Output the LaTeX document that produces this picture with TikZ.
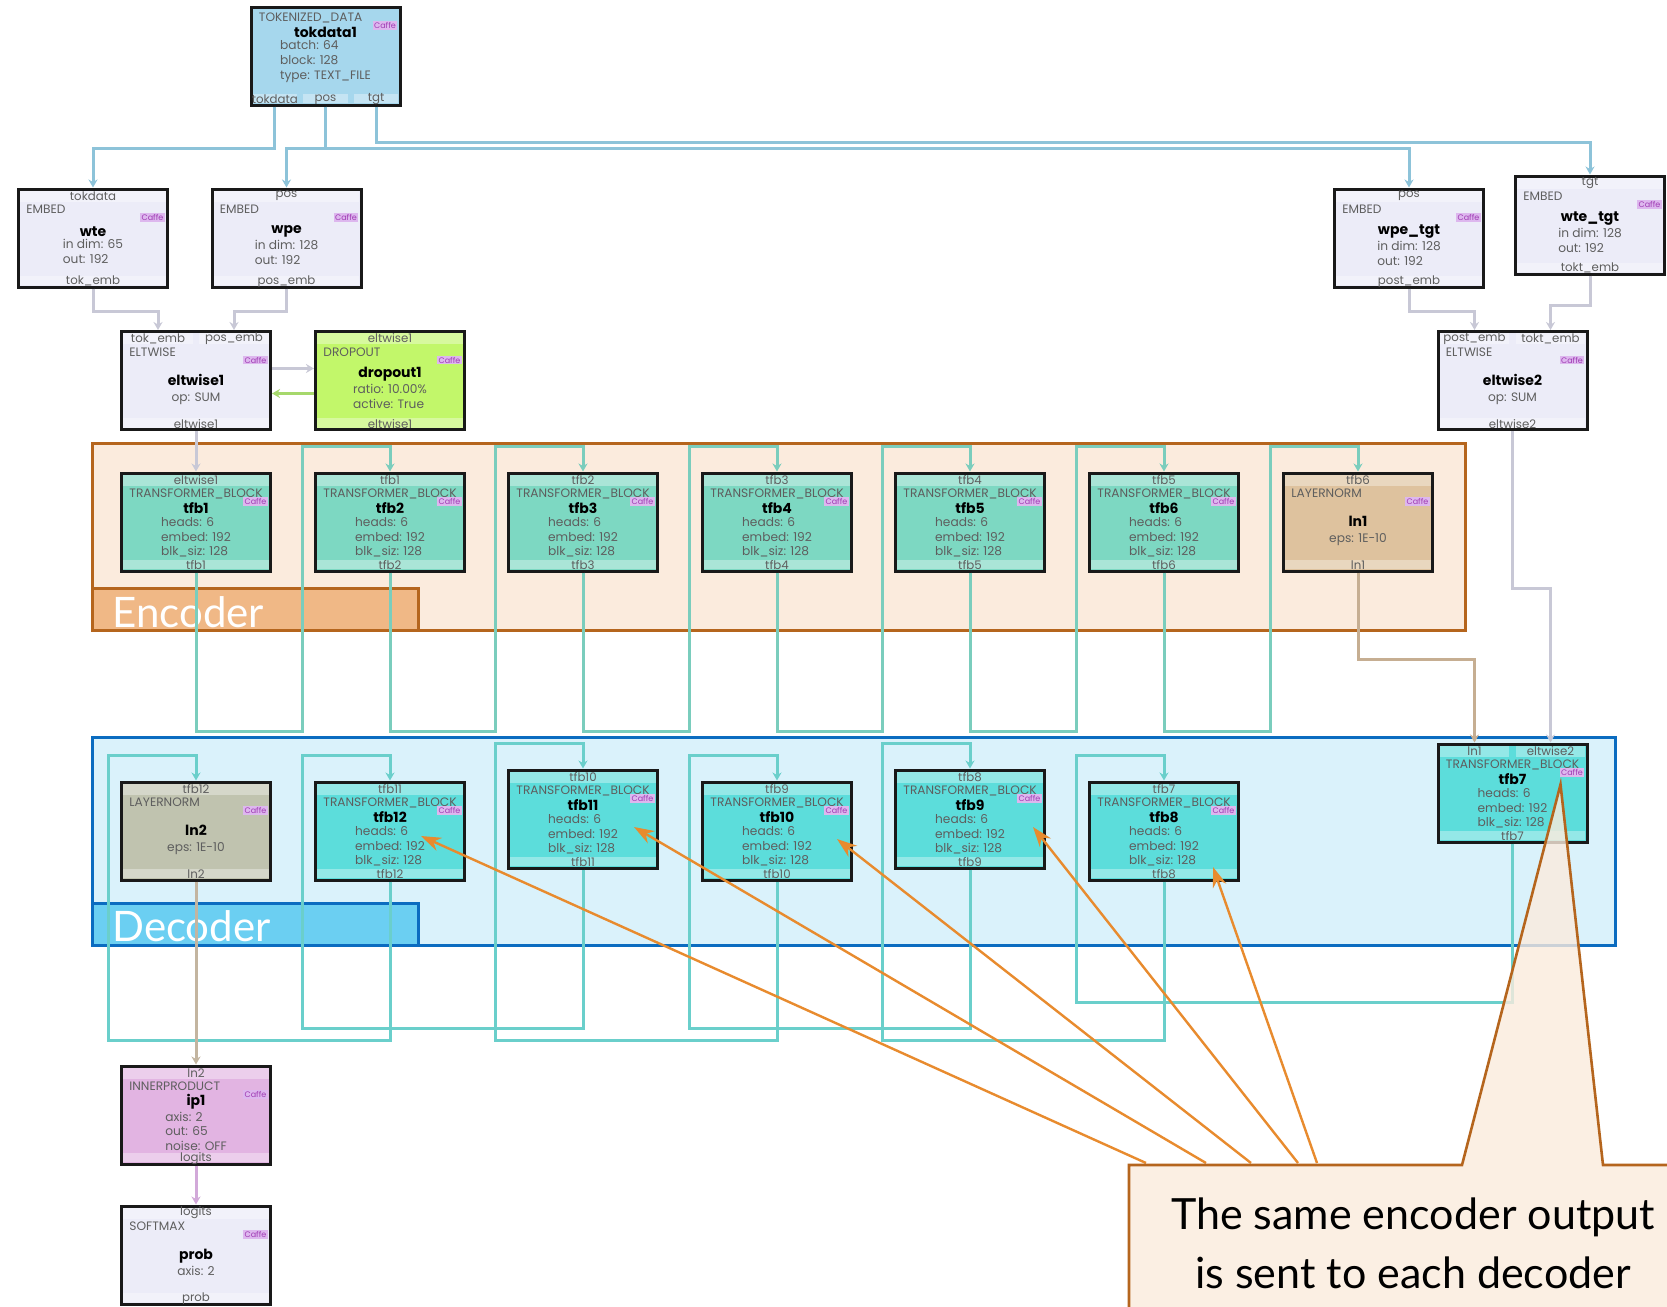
\documentclass[tikz,border=0pt]{standalone}
\usepackage{fontspec}
\setmainfont{Poppins}
\newfontfamily\bigfont{Lato}
\usepackage{xcolor}
\usetikzlibrary{arrows.meta,calc}

% layer colours
\definecolor{datafill}{HTML}{A6D7ED}
\definecolor{embfill}{HTML}{ECECF8}
\definecolor{dropfill}{HTML}{C2F76A}
\definecolor{encfill}{HTML}{7DD8C2}
\definecolor{lnonefill}{HTML}{DEC29E}
\definecolor{decfill}{HTML}{5CDDDB}
\definecolor{lntwofill}{HTML}{C0C3AF}
\definecolor{ipfill}{HTML}{E2B4E2}
% wire colours
\definecolor{datawirec}{HTML}{8DC3D9}
\definecolor{embwirec}{HTML}{C8C8D6}
\definecolor{dropwirec}{HTML}{A6D86C}
\definecolor{encwirec}{HTML}{7ACDBD}
\definecolor{decwirec}{HTML}{6ACFCB}
\definecolor{lnonewirec}{HTML}{C6AE92}
\definecolor{lntwowirec}{HTML}{C3B5A0}
\definecolor{ipwirec}{HTML}{D2A9D9}
% text and clusters
\definecolor{txtgray}{HTML}{5E5E5E}
\definecolor{caffetxt}{HTML}{A03CB4}
\definecolor{caffebg}{HTML}{DDB7EE}
\definecolor{encbg}{HTML}{FBEBDD}
\definecolor{encline}{HTML}{B5651D}
\definecolor{enclab}{HTML}{F0B886}
\definecolor{decbg}{HTML}{DAF2FB}
\definecolor{decline}{HTML}{0B6CC0}
\definecolor{declab}{HTML}{6BCFF2}
\definecolor{hintc}{HTML}{E88B2E}

\tikzset{
	layer/.style={draw=black!90, line width=1.5pt, minimum width=74.5pt, minimum height=49pt, inner sep=0pt},
	portband/.style={fill=white, fill opacity=0.35},
	port/.style={font=\fontsize{5.9}{6.5}\selectfont, text=txtgray, inner sep=0pt},
	ltype/.style={font=\fontsize{6.1}{7}\selectfont, text=txtgray, inner sep=0pt},
	caffetag/.style={font=\fontsize{4}{4.4}\selectfont, text=caffetxt, fill=caffebg, inner sep=0.6pt},
	ltitle/.style={align=center, inner sep=0pt, font=\fontsize{7}{8}\selectfont},
	wire/.style={line width=1.5pt, -{Stealth[length=4pt,width=4.5pt]}},
	datawire/.style={wire, draw=datawirec},
	embwire/.style={wire, draw=embwirec},
	dropwire/.style={wire, draw=dropwirec},
	encwire/.style={wire, draw=encwirec},
	decwire/.style={wire, draw=decwirec},
	lnonewire/.style={wire, draw=lnonewirec},
	lntwowire/.style={wire, draw=lntwowirec},
	ipwire/.style={wire, draw=ipwirec},
	cluster/.style={line width=1.5pt},
	clustertext/.style={font=\bigfont\fontsize{21}{24}\selectfont, text=white, inner sep=0pt},
	hint/.style={draw=hintc, line width=1.2pt, -{Stealth[length=10pt,width=7pt]}},
	callout/.style={fill=encbg, fill opacity=0.8, draw=encline, line width=1.3pt},
	notetext/.style={font=\bigfont\fontsize{21.5}{29.5}\selectfont, align=center, inner sep=0pt}
}

% one caffe layer box: [title offset]{name}{centre}{fill}{type}{title}{params}
\newcommand{\caffelayer}[7][9]{%
	\node[layer, fill=#4] (#2) at (#3) {};
	\node[ltype, anchor=west] at ($(#2.north west)+(9,#1+13)$) {#5};
	\node[caffetag, anchor=east] at ($(#2.north east)+(-4,#1+21)$) {Caffe};
	\node[ltitle] at ($(#2.center)+(0,#1+0.5)$) {\textbf{#6}\\[0pt]{\color{txtgray}\fontsize{6.1}{7.4}\selectfont\begin{tabular}{@{}l@{}}#7\end{tabular}}};
}
% input ports along the top: {name}{count}{labels}
\newcommand{\inports}[3]{%
	\foreach \lab [count=\k] in {#3} {
		\pgfmathsetmacro{\fa}{(\k-1)/#2}
		\pgfmathsetmacro{\fb}{\k/#2}
		\coordinate (pa) at ($(#1.north west)!\fa!(#1.north east)$);
		\coordinate (pb) at ($(#1.north west)!\fb!(#1.north east)$);
		\fill[portband] ($(pa)+(3.2,3.2)$) rectangle ($(pb)+(-3.2,14)$);
		\node[port] at ($(pa)!0.5!(pb)+(0,8.5)$) {\lab};
		\coordinate (#1-in\k) at ($(pa)!0.5!(pb)$);
	}
}
% output ports along the bottom: {name}{count}{labels}
\newcommand{\outports}[3]{%
	\foreach \lab [count=\k] in {#3} {
		\pgfmathsetmacro{\fa}{(\k-1)/#2}
		\pgfmathsetmacro{\fb}{\k/#2}
		\coordinate (pa) at ($(#1.south west)!\fa!(#1.south east)$);
		\coordinate (pb) at ($(#1.south west)!\fb!(#1.south east)$);
		\fill[portband] ($(pa)+(3.2,-3.2)$) rectangle ($(pb)+(-3.2,-13)$);
		\node[port] at ($(pa)!0.5!(pb)+(0,-7.2)$) {\lab};
		\coordinate (#1-out\k) at ($(pa)!0.5!(pb)$);
	}
}

\begin{document}
\begin{tikzpicture}[x=0.5pt, y=-0.5pt]

	% Fix the page size
	\useasboundingbox (0,0) rectangle (1667,1307);
	\clip (0,0) rectangle (1667,1307);
	\fill[white] (0,0) rectangle (1667,1307);

	% Draw the encoder cluster
	\draw[cluster, fill=encbg, draw=encline] (92,443) rectangle (1465,630);
	\draw[cluster, fill=enclab, draw=encline] (92,588) rectangle (418,630);
	\node[clustertext, anchor=base west] (enclabel) at (112,627) {Encoder};

	% Draw the decoder cluster
	\draw[cluster, fill=decbg, draw=decline] (92,737) rectangle (1615,945);
	\draw[cluster, fill=declab, draw=decline] (92,903) rectangle (418,945);
	\node[clustertext, anchor=base west] (declabel) at (112,941) {Decoder};

	% Data layer
	\caffelayer[-1]{tokdata1}{325.5,56}{datafill}{TOKENIZED\_DATA}{tokdata1}{batch: 64\\block: 128\\type: TEXT\_FILE}
	\outports{tokdata1}{3}{tokdata,pos,tgt}

	% Embeddings
	\caffelayer{wte}{93,238}{embfill}{EMBED}{wte}{in dim: 65\\out: 192}
	\inports{wte}{1}{tokdata}
	\outports{wte}{1}{tok\_emb}
	\caffelayer{wpe}{286.5,238}{embfill}{EMBED}{wpe}{in dim: 128\\out: 192}
	\inports{wpe}{1}{pos}
	\outports{wpe}{1}{pos\_emb}
	\caffelayer{wpetgt}{1409,238}{embfill}{EMBED}{wpe\_tgt}{in dim: 128\\out: 192}
	\inports{wpetgt}{1}{pos}
	\outports{wpetgt}{1}{post\_emb}
	\caffelayer{wtetgt}{1590,225}{embfill}{EMBED}{wte\_tgt}{in dim: 128\\out: 192}
	\inports{wtetgt}{1}{tgt}
	\outports{wtetgt}{1}{tokt\_emb}

	% Sums and dropout
	\caffelayer{eltwise1}{196,380.5}{embfill}{ELTWISE}{eltwise1}{op: SUM}
	\inports{eltwise1}{2}{tok\_emb,pos\_emb}
	\outports{eltwise1}{1}{eltwise1}
	\caffelayer{dropout1}{390,380.5}{dropfill}{DROPOUT}{dropout1}{ratio: 10.00\%\\active: True}
	\inports{dropout1}{1}{eltwise1}
	\outports{dropout1}{1}{eltwise1}
	\caffelayer{eltwise2}{1512.5,380.5}{embfill}{ELTWISE}{eltwise2}{op: SUM}
	\inports{eltwise2}{2}{post\_emb,tokt\_emb}
	\outports{eltwise2}{1}{eltwise2}

	% Encoder blocks
	\foreach \i/\x/\src in {1/196/eltwise1, 2/390/tfb1, 3/583/tfb2, 4/777/tfb3, 5/970/tfb4, 6/1164/tfb5} {
		\caffelayer{tfb\i}{\x,522}{encfill}{TRANSFORMER\_BLOCK}{tfb\i}{heads: 6\\embed: 192\\blk\_siz: 128}
		\inports{tfb\i}{1}{\src}
		\outports{tfb\i}{1}{tfb\i}
	}
	\caffelayer{ln1}{1358,522}{lnonefill}{LAYERNORM}{ln1}{eps: 1E-10}
	\inports{ln1}{1}{tfb6}
	\outports{ln1}{1}{ln1}

	% Decoder blocks
	\caffelayer{tfb7}{1512.5,793}{decfill}{TRANSFORMER\_BLOCK}{tfb7}{heads: 6\\embed: 192\\blk\_siz: 128}
	\inports{tfb7}{2}{ln1,eltwise2}
	\outports{tfb7}{1}{tfb7}
	\foreach \i/\x/\y/\src in {8/1164/831/tfb7, 9/970/819/tfb8, 10/777/831/tfb9, 11/583/819/tfb10, 12/390/831/tfb11} {
		\caffelayer{tfb\i}{\x,\y}{decfill}{TRANSFORMER\_BLOCK}{tfb\i}{heads: 6\\embed: 192\\blk\_siz: 128}
		\inports{tfb\i}{1}{\src}
		\outports{tfb\i}{1}{tfb\i}
	}
	\caffelayer{ln2}{196,831}{lntwofill}{LAYERNORM}{ln2}{eps: 1E-10}
	\inports{ln2}{1}{tfb12}
	\outports{ln2}{1}{ln2}

	% Head
	\caffelayer{ip1}{196,1115}{ipfill}{INNERPRODUCT}{ip1}{axis: 2\\out: 65\\noise: OFF}
	\inports{ip1}{1}{ln2}
	\outports{ip1}{1}{logits}
	\caffelayer{prob}{196,1255}{embfill}{SOFTMAX}{prob}{axis: 2}
	\inports{prob}{1}{logits}
	\outports{prob}{1}{prob}

	% Data wires
	\draw[datawire] (tokdata1-out1) -- ++(0,42) -| (wte-in1);
	\draw[datawire] (tokdata1-out2) -- ++(0,42) -| (wpe-in1);
	\draw[datawire] (tokdata1-out2) -- ++(0,42) -| (wpetgt-in1);
	\draw[datawire] (tokdata1-out3) -- ++(0,36) -| (wtetgt-in1);

	% Embeddings into the sums
	\draw[embwire] (wte-out1) -- ++(0,23) -| (eltwise1-in1);
	\draw[embwire] (wpe-out1) -- ++(0,23) -| (eltwise1-in2);
	\draw[embwire] (wpetgt-out1) -- ++(0,23) -| (eltwise2-in1);
	\draw[embwire] (wtetgt-out1) -- ++(0,30) -| (eltwise2-in2);

	% In-place dropout
	\draw[embwire] ($(eltwise1.east)+(0,-12)$) -- ($(dropout1.west)+(0,-12)$);
	\draw[dropwire] ($(dropout1.west)+(0,13)$) -- ($(eltwise1.east)+(0,13)$);
	\draw[embwire] (eltwise1-out1) -- (tfb1-in1);

	% Encoder chain
	\foreach \a/\b in {tfb1/tfb2, tfb2/tfb3, tfb3/tfb4, tfb4/tfb5, tfb5/tfb6, tfb6/ln1}
		\draw[encwire] (\a-out1) -- ++(0,159) -| ($(\b.north west)+(-12,-25)$) -| (\b-in1);

	% Encoder output and target into the first decoder block
	\draw[lnonewire] (ln1-out1) -- ++(0,87) -| (tfb7-in1);
	\draw[embwire] (eltwise2-out1) -- ++(0,157) -| (tfb7-in2);

	% Decoder chain
	\foreach \a/\b in {tfb7/tfb8, tfb8/tfb9, tfb9/tfb10, tfb10/tfb11, tfb11/tfb12, tfb12/ln2}
		\draw[decwire] (\a-out1) -- ++(0,159) -| ($(\b.north west)+(-12,-25)$) -| (\b-in1);

	% Head wires
	\draw[lntwowire] (ln2-out1) -- (ip1-in1);
	\draw[ipwire] (ip1-out1) -- (prob-in1);

	% Draw the callout
	\coordinate (notecorner) at (1129,1165);
	\coordinate (notetip) at ($(tfb7.north east)+(-28,42)$);
	\foreach \n/\dx/\tx/\ty in {tfb12/17/31/5, tfb11/77/51/8, tfb10/122/60/8, tfb9/169/63/8, tfb8/188/49/36}
		\draw[hint] ($(notecorner)+(\dx,-2)$) -- ($(\n.center)+(\tx,\ty)$);
	\filldraw[callout] (notecorner) -- (1462,1165) -- (notetip) -- (1603,1165) -- (1720,1165) -- (1720,1340) -- (1129,1340) -- cycle;
	\node[notetext] (note) at (1413,1243) {The same encoder output\\is sent to each decoder};

\end{tikzpicture}
\end{document}
